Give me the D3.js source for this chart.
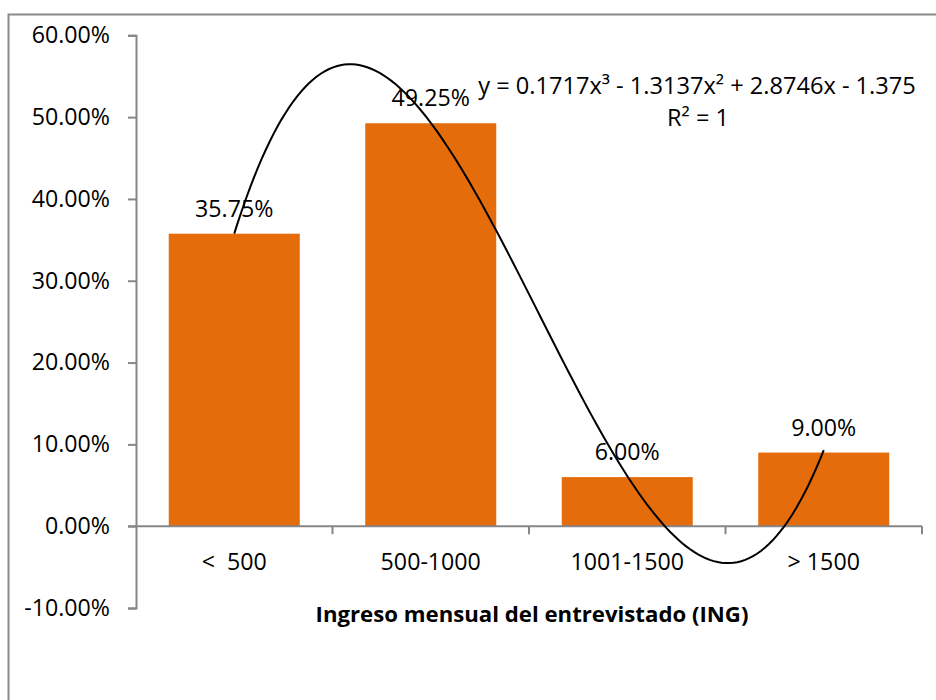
<!DOCTYPE html>
<html>
<head>
<meta charset="utf-8">
<script src="https://cdn.jsdelivr.net/npm/d3@7"></script>
<style>
	body { margin: 0; background: #fff; }
	svg { display: block; font-family: 'Open Sans', 'Noto Sans', sans-serif; }
</style>
</head>
<body>
<div id="chart"></div>
<script>
const categories = ['<  500', '500-1000', '1001-1500', '> 1500'];
const values = [0.3575, 0.4925, 0.06, 0.09];
const yTicks = [-0.1, 0, 0.1, 0.2, 0.3, 0.4, 0.5, 0.6];
// trendline coefficients, highest power first (from the equation on the chart)
const trendCoef = [0.1717, -1.3137, 2.8746, -1.375];
const trendLabel = 'y = 0.1717x³ - 1.3137x² + 2.8746x - 1.375';
const r2Label = 'R² = 1';
const xTitle = 'Ingreso mensual del entrevistado (ING)';

const W = 936, H = 700;
const plot = { left: 136, right: 922, top: 35.3, bottom: 608 };
const fs = 23.2;

const svg = d3.select('#chart').append('svg').attr('width', W).attr('height', H);

// outer chart border (cropped at right and bottom)
svg.append('rect')
	.attr('x', 8.5).attr('y', 14.5)
	.attr('width', 1000).attr('height', 1000)
	.attr('fill', 'none').attr('stroke', '#898989').attr('stroke-width', 2);

const x = d3.scaleBand().domain(categories).range([plot.left, plot.right])
	.paddingInner(1 / 3).paddingOuter(1 / 6);
const y = d3.scaleLinear().domain([-0.1, 0.6]).range([plot.bottom, plot.top]);
const xNum = d3.scaleLinear().domain([0.5, categories.length + 0.5]).range([plot.left, plot.right]);

const fmt = (v) => d3.format('.2%')(v).replace('−', '-');

// y axis
const yAxis = svg.append('g')
	.attr('transform', `translate(${plot.left},0)`)
	.call(d3.axisLeft(y).tickValues(yTicks).tickFormat(fmt).tickSize(8).tickPadding(18));
yAxis.select('.domain').attr('stroke', '#868686').attr('stroke-width', 2);
yAxis.selectAll('.tick line').attr('stroke', '#868686').attr('stroke-width', 2);
yAxis.selectAll('.tick text').attr('font-size', fs).attr('fill', '#000')
	.attr('font-family', 'Open Sans');

// bars
svg.append('g').selectAll('rect')
	.data(values)
	.join('rect')
	.attr('x', (d, i) => x(categories[i]))
	.attr('y', (d) => y(d))
	.attr('width', x.bandwidth())
	.attr('height', (d) => y(0) - y(d))
	.attr('fill', '#E46C0A');

// x axis at zero
const step = x.step();
const xAxisG = svg.append('g');
xAxisG.append('line')
	.attr('x1', plot.left - 8).attr('x2', plot.right)
	.attr('y1', y(0)).attr('y2', y(0))
	.attr('stroke', '#868686').attr('stroke-width', 2);
xAxisG.selectAll('line.tk')
	.data(d3.range(1, categories.length + 1))
	.join('line')
	.attr('class', 'tk')
	.attr('x1', (d) => plot.left + d * step).attr('x2', (d) => plot.left + d * step)
	.attr('y1', y(0)).attr('y2', y(0) + 8)
	.attr('stroke', '#868686').attr('stroke-width', 2);
xAxisG.selectAll('text')
	.data(categories)
	.join('text')
	.attr('x', (d) => x(d) + x.bandwidth() / 2)
	.attr('y', y(0) + 44)
	.attr('text-anchor', 'middle')
	.attr('font-size', fs)
	.style('white-space', 'pre')
	.text((d) => d);

// data labels
svg.append('g').selectAll('text')
	.data(values)
	.join('text')
	.attr('x', (d, i) => x(categories[i]) + x.bandwidth() / 2)
	.attr('y', (d) => y(d) - 17)
	.attr('text-anchor', 'middle')
	.attr('font-size', fs)
	.text((d) => fmt(d));

// polynomial trendline
const poly = (t) => trendCoef.reduce((acc, c) => acc * t + c, 0);
const ts = d3.range(1, categories.length + 0.001, 0.02);
svg.append('path')
	.datum(ts)
	.attr('fill', 'none')
	.attr('stroke', '#000')
	.attr('stroke-width', 2)
	.attr('d', d3.line().x((t) => xNum(t)).y((t) => y(poly(t))));

// trendline equation
svg.append('text')
	.attr('x', 697).attr('y', 94)
	.attr('text-anchor', 'middle')
	.attr('font-size', 23.6)
	.text(trendLabel);
svg.append('text')
	.attr('x', 698).attr('y', 126)
	.attr('text-anchor', 'middle')
	.attr('font-size', 23.6)
	.text(r2Label);

// axis title
svg.append('text')
	.attr('x', 532).attr('y', 622)
	.attr('text-anchor', 'middle')
	.attr('font-size', 22.2)
	.attr('font-weight', 'bold')
	.text(xTitle);
</script>
</body>
</html>
